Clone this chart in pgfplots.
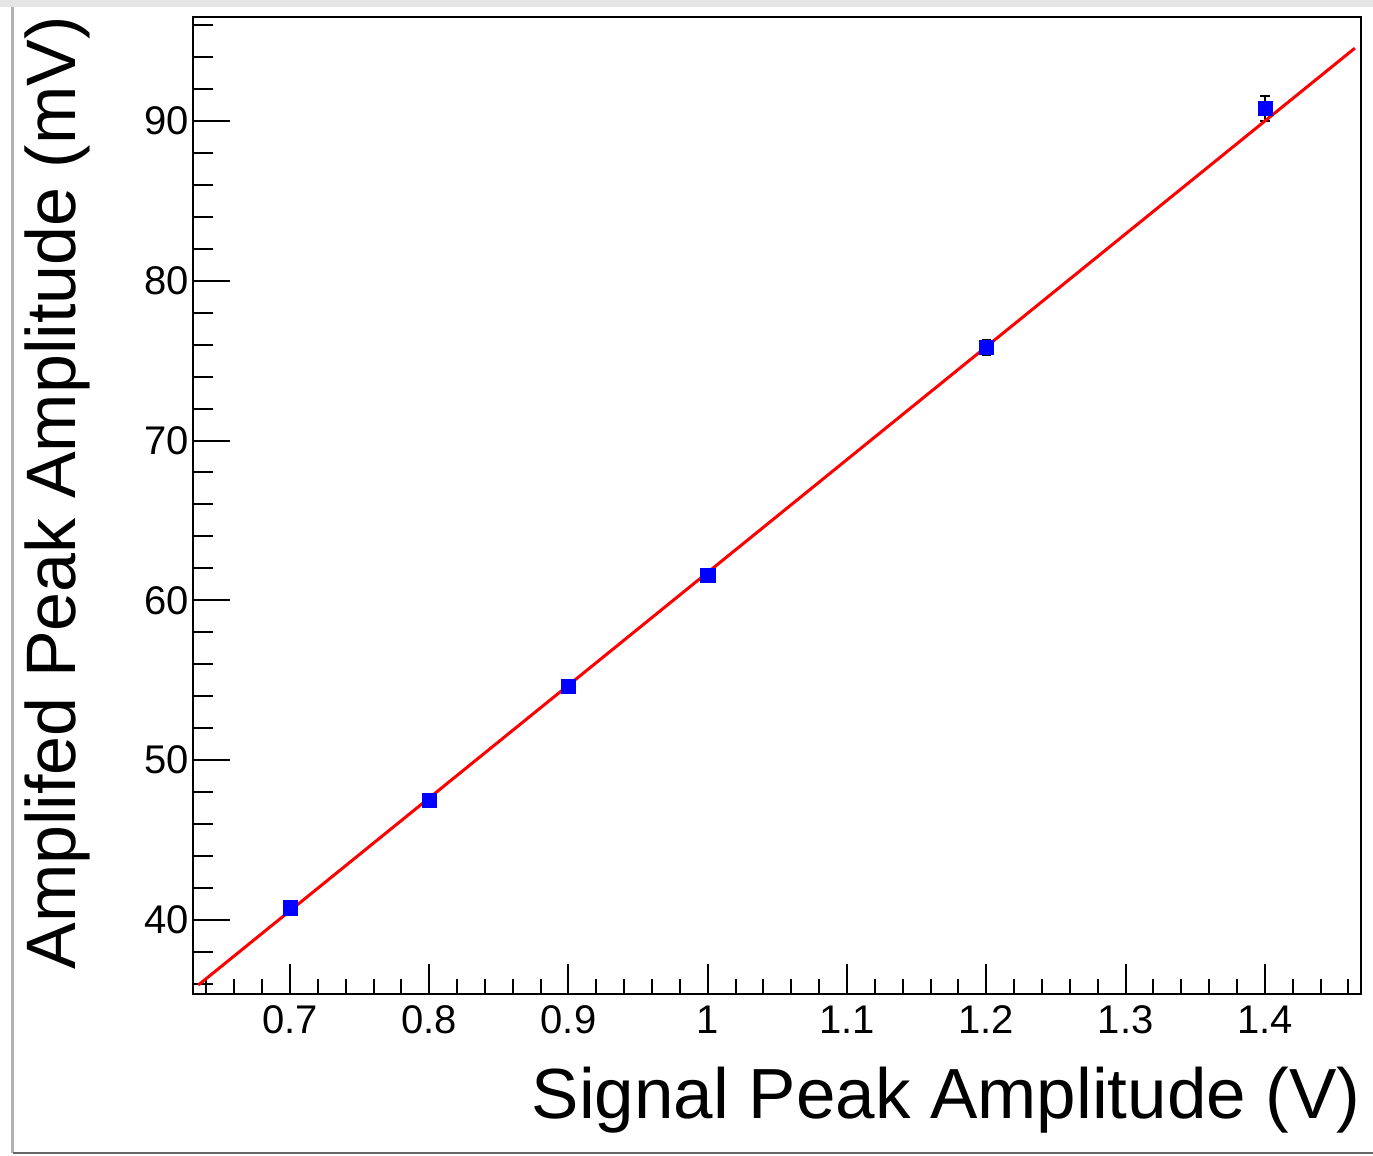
\documentclass[border=0pt]{standalone}
\usepackage{fontspec}
\setmainfont{Liberation Sans}
\usepackage{pgfplots}
\pgfplotsset{compat=1.18}

\begin{document}
\begin{tikzpicture}
\begin{axis}[
  at={(0,0)}, anchor=south west,
  scale only axis, width=584bp, height=488.5bp,
  xmin=0.6304, xmax=1.469, ymin=35.37, ymax=96.5,
  xtick={0.6,0.7,0.8,0.9,1,1.1,1.2,1.3,1.4,1.5},
  ytick={30,40,50,60,70,80,90,100},
  minor x tick num=4, minor y tick num=4,
  tick pos=left, tick align=inside,
  axis line style={line width=1bp},
  every tick/.style={black, line width=1bp},
  major tick length=18.5bp, minor tick length=10bp,
  xtick style={/pgfplots/major tick length=15bp, /pgfplots/minor tick length=7.5bp},
  /pgf/number format/assume math mode=true,
  tick label style={font=\fontsize{20bp}{24bp}\selectfont},
  yticklabel style={xshift=1.5bp},
  xticklabel style={yshift=-2.5bp},
  label style={font=\fontsize{35.5bp}{40bp}\selectfont, inner sep=0pt},
  xlabel={Signal Peak Amplitude (V)},
  ylabel={Amplifed Peak Amplitude (mV)},
  xlabel style={at={(axis description cs:1,-0.127)}, anchor=base east},
  ylabel style={at={(axis description cs:-0.101,1.001)}, anchor=base east,
    font=\fontsize{35bp}{40bp}\selectfont},
]
% measured peak amplitudes with their uncertainties
\addplot[only marks, mark=square*, mark size=3.6bp,
  mark options={fill=blue, draw=blue, line width=0.2bp},
  error bars/.cd, y dir=both, y explicit,
  error bar style={black, line width=1bp},
  error mark options={rotate=90, mark size=2.3bp, black, line width=1bp}]
  table[x=x, y=y, y error=e] {
  x    y      e
  0.7  40.78  0
  0.8  47.50  0
  0.9  54.61  0
  1.0  61.58  0
  1.2  75.83  0.45
  1.4  90.78  0.78
};
% linear fit
\addplot[red, line width=1.5bp, no marks] coordinates {(0.6342,35.93) (1.4646,94.55)};
\end{axis}
% canvas frame
\fill[gray!20] (-96.5bp,493.5bp) rectangle (590bp,497bp);
\draw[gray!60, line width=1.5bp] (-90bp,-79.5bp) -- (-90bp,493.5bp);
\draw[gray!80!black, line width=1bp] (-90bp,-79.5bp) -- (590bp,-79.5bp);
\pgfresetboundingbox
\path[use as bounding box] (-96.5bp,-81bp) rectangle (590bp,497bp);
\end{tikzpicture}
\end{document}
